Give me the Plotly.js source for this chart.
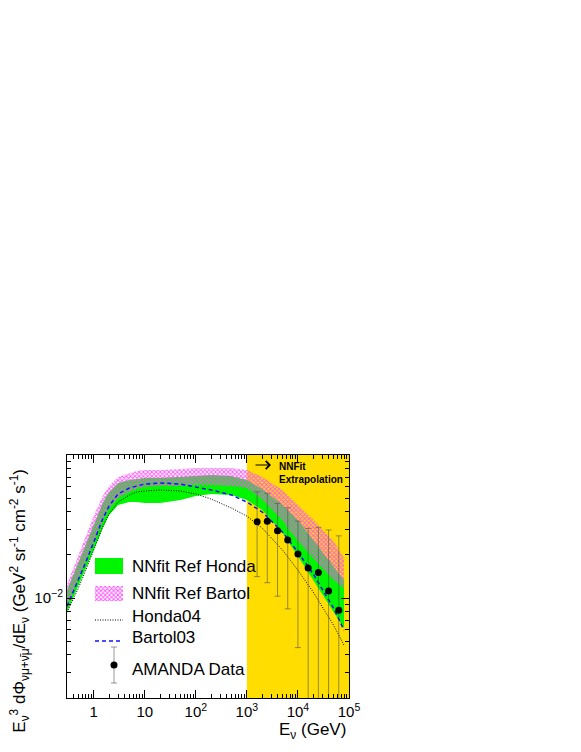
<!DOCTYPE html>
<html>
<head>
<meta charset="utf-8">
<script src="https://cdn.plot.ly/plotly-3.0.1.min.js"></script>
<style>html,body{margin:0;padding:0;background:#fff;}#chart{width:581px;height:752px;}</style>
</head>
<body>
<div id="chart"></div>
<script>
// Energy grid (GeV) for the bands and model curves
const energy = [0.3,0.5,0.7,1,1.5,2,3,5,7,10,20,50,100,200,500,1000,2000,5000,1e4,2e4,5e4,8e4];

// NNfit Ref Honda band (E^3 dPhi/dE)
const hondaBandLow  = [0.00795,0.01209,0.01617,0.02162,0.03081,0.03801,0.04466,0.04687,0.04687,0.04612,0.04612,0.0484,0.0517,0.0534,0.0525,0.0484,0.0412,0.02843,0.01962,0.01332,0.00795,0.00614];
const hondaBandHigh = [0.01134,0.01781,0.02418,0.03287,0.04612,0.0551,0.0637,0.0668,0.0679,0.0690,0.0690,0.0701,0.0713,0.0724,0.0713,0.0668,0.0578,0.04466,0.03505,0.0254,0.0167,0.01332];

// NNfit Ref Bartol band
const bartolBandLow  = [0.00876,0.01332,0.01781,0.02418,0.03449,0.04187,0.0500,0.0551,0.0578,0.0597,0.0607,0.0607,0.0617,0.0617,0.0607,0.0588,0.0490,0.03440,0.02500,0.01900,0.01330,0.01180];
const bartolBandHigh = [0.01249,0.01994,0.02709,0.0374,0.0517,0.0607,0.0701,0.0748,0.0773,0.0785,0.0785,0.0798,0.0811,0.0811,0.0811,0.0785,0.0701,0.0569,0.04466,0.03540,0.0250,0.0190];

// Model curves
const honda04  = [0.00795,0.01171,0.01565,0.02162,0.03132,0.03863,0.04687,0.0525,0.0551,0.0560,0.0569,0.0560,0.0534,0.0492,0.04255,0.0374,0.03081,0.02162,0.01565,0.01098,0.00645,0.00467];
const bartol03 = [0.00876,0.01332,0.01781,0.02458,0.03563,0.04394,0.0534,0.0588,0.0607,0.0627,0.0637,0.0627,0.0597,0.0569,0.0525,0.04687,0.03989,0.02889,0.02094,0.01468,0.00848,0.00595];

// AMANDA unfolded data
const amandaE     = [1585,2512,3981,6310,10000,15850,25120,39810,63100];
const amandaY     = [0.0341,0.0344,0.0295,0.0254,0.0203,0.0162,0.0151,0.0112,0.0082];
const amandaUpper = [0.0553,0.0540,0.0459,0.0428,0.0345,0.0307,0.0312,0.0299,0.0272];
const amandaLower = [0.0141,0.0128,0.0103,0.0084,0.0045,0,0,0,0];

// Axis tick labels
const xTickVals = [1,10,100,1000,10000,100000];
const xTickText = ['1','10','10<sup>2</sup>','10<sup>3</sup>','10<sup>4</sup>','10<sup>5</sup>'];
const xMinor = [0.3,0.4,0.5,0.6,0.7,0.8,0.9,2,3,4,5,6,7,8,9,20,30,40,50,60,70,80,90,200,300,400,500,600,700,800,900,2000,3000,4000,5000,6000,7000,8000,9000,20000,30000,40000,50000,60000,70000,80000,90000];
const yTickVals = [0.01];
const yTickText = ['10<sup>\u22122</sup>'];
const yMinor = [0.002,0.003,0.004,0.005,0.006,0.007,0.008,0.009,0.02,0.03,0.04,0.05,0.06,0.07,0.08,0.09];

const legendLabels = ['NNfit Ref Honda','NNfit Ref Bartol','Honda04','Bartol03','AMANDA Data'];

const GREEN = 'rgb(0,245,0)';
const PINK = 'rgb(255,80,255)';
const ERRC = 'rgba(80,80,80,0.6)';

const errPlus = amandaY.map((v,i)=>amandaUpper[i]-v);
const errMinus = amandaY.map((v,i)=>v-amandaLower[i]);

const HATCH = {shape:'x', fgcolor:PINK, bgcolor:'rgba(0,0,0,0)', size:3, solidity:0.5};

const traces = [
  {x: energy, y: hondaBandLow, mode:'lines', line:{width:0}, hoverinfo:'skip', showlegend:false},
  {x: energy, y: hondaBandHigh, mode:'lines', line:{width:0}, fill:'tonexty', fillcolor:GREEN, showlegend:false, name:legendLabels[0]},
  {x: energy, y: bartolBandLow, mode:'lines', line:{width:0}, hoverinfo:'skip', showlegend:false},
  {x: energy, y: bartolBandHigh, mode:'lines', line:{width:0}, fill:'tonexty', fillcolor:'rgba(0,0,0,0)',
   fillpattern:HATCH, showlegend:false, name:legendLabels[1]},
  {x: energy, y: honda04, mode:'lines', line:{color:'#000', width:1, dash:'1px,1.5px'}, showlegend:false, name:legendLabels[2]},
  {x: energy, y: bartol03, mode:'lines', line:{color:'#1010ff', width:1.5, dash:'4px,3px'}, showlegend:false, name:legendLabels[3]},
  {x: amandaE, y: amandaY, mode:'markers', marker:{color:'#000', size:7},
   error_y:{type:'data', symmetric:false, array:errPlus, arrayminus:errMinus, color:ERRC, thickness:1, width:3},
   showlegend:false, name:legendLabels[4]},
  // legend swatches (drawn in a pixel-like overlay axis)
  {x:[28,56,56,28,28], y:[103,103,119,119,103], xaxis:'x2', yaxis:'y2', mode:'lines', line:{width:0}, fill:'toself', fillcolor:GREEN, showlegend:false, hoverinfo:'skip'},
  {x:[28,56,56,28,28], y:[131,131,146,146,131], xaxis:'x2', yaxis:'y2', mode:'lines', line:{width:0}, fill:'toself', fillcolor:'rgba(0,0,0,0)',
   fillpattern:HATCH, showlegend:false, hoverinfo:'skip'},
  {x:[28,56], y:[165,165], xaxis:'x2', yaxis:'y2', mode:'lines', line:{color:'#000', width:1, dash:'1px,1.5px'}, showlegend:false, hoverinfo:'skip'},
  {x:[28,56], y:[186,186], xaxis:'x2', yaxis:'y2', mode:'lines', line:{color:'#1010ff', width:1.5, dash:'4px,3px'}, showlegend:false, hoverinfo:'skip'},
  {x:[47], y:[210], xaxis:'x2', yaxis:'y2', mode:'markers', marker:{color:'#000', size:7},
   error_y:{type:'data', array:[18], color:ERRC, thickness:1, width:3}, showlegend:false, hoverinfo:'skip'}
];

const F = 'Liberation Sans, Arial, sans-serif';
const legendY = [111,138.5,161,182,214];
const annotations = legendLabels.map((t,i)=>({
  text:t, xref:'x2', yref:'y2', x:63, y:legendY[i], xanchor:'left', yanchor:'middle', showarrow:false,
  font:{family:F, size:17, color:'#000'}
}));
annotations.push({text:' ', xref:'x2', yref:'y2', x:204, y:10, axref:'x2', ayref:'y2', ax:185, ay:10,
  showarrow:true, arrowhead:4, arrowsize:1.3, arrowwidth:1.2, arrowcolor:'#000'});
annotations.push({text:'<b>NNFit</b><br><b>Extrapolation</b>', xref:'x2', yref:'y2', x:210, y:17.5, xanchor:'left', yanchor:'middle',
  align:'left', showarrow:false, font:{family:F, size:10, color:'#000'}});
annotations.push({text:'E<sub>\u03bd</sub> (GeV)', xref:'paper', yref:'paper', x:0.997, y:-0.136, xanchor:'right', yanchor:'middle',
  showarrow:false, font:{family:F, size:17, color:'#000'}});
annotations.push({text:'E<sub>\u03bd</sub><sup>3</sup> d\u03a6<sub>\u03bd\u03bc+\u03bd\u0304\u03bc</sub>/dE<sub>\u03bd</sub> (GeV<sup>2</sup> sr<sup>-1</sup> cm<sup>-2</sup> s<sup>-1</sup>)',
  xref:'paper', yref:'paper', x:-0.167, y:0.40, xanchor:'center', yanchor:'middle', textangle:-90,
  showarrow:false, font:{family:F, size:17, color:'#000'}});

const layout = {
  width:581, height:752,
  margin:{l:67, r:232, t:455, b:54, pad:0},
  paper_bgcolor:'#fff', plot_bgcolor:'#fff',
  showlegend:false,
  font:{family:F, size:15, color:'#000'},
  xaxis:{type:'log', range:[-0.5229,5], showgrid:false, zeroline:false,
    showline:true, linecolor:'#000', linewidth:1, mirror:'ticks',
    ticks:'inside', ticklen:8, tickcolor:'#000', tickmode:'array', tickvals:xTickVals, ticktext:xTickText,
    tickfont:{family:F, size:15},
    minor:{tickmode:'array', tickvals:xMinor, ticks:'inside', ticklen:4, tickcolor:'#000', showgrid:false}},
  yaxis:{type:'log', range:[-2.699,-1], showgrid:false, zeroline:false,
    showline:true, linecolor:'#000', linewidth:1, mirror:'ticks',
    ticks:'inside', ticklen:8, tickcolor:'#000', tickmode:'array', tickvals:yTickVals, ticktext:yTickText,
    tickfont:{family:F, size:15},
    minor:{tickmode:'array', tickvals:yMinor, ticks:'inside', ticklen:4, tickcolor:'#000', showgrid:false}},
  xaxis2:{overlaying:'x', anchor:'y2', range:[0,282], visible:false, fixedrange:true},
  yaxis2:{overlaying:'y', anchor:'x2', range:[243,0], visible:false, fixedrange:true},
  shapes:[{type:'rect', xref:'x', yref:'paper', x0:1000, x1:100000, y0:0, y1:1, fillcolor:'#ffdd00', line:{width:0}, layer:'below'}],
  annotations:annotations
};

Plotly.newPlot('chart', traces, layout, {staticPlot:true, displayModeBar:false});
</script>
</body>
</html>
